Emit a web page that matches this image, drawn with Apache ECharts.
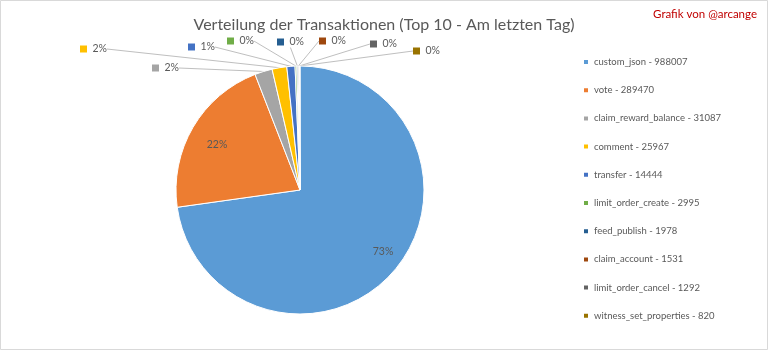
<!DOCTYPE html>
<html>
<head>
<meta charset="utf-8">
<script src="https://cdn.jsdelivr.net/npm/echarts@6/dist/echarts.min.js"></script>
<style>
  html, body { margin: 0; padding: 0; background: #fff; }
  #chart { width: 768px; height: 350px; }
</style>
</head>
<body>
<div id="chart"></div>
<script>
// Transaction types of the last day (top 10) and their counts
const categories = [
  'custom_json', 'vote', 'claim_reward_balance', 'comment', 'transfer',
  'limit_order_create', 'feed_publish', 'claim_account', 'limit_order_cancel',
  'witness_set_properties'
];
const counts = [988007, 289470, 31087, 25967, 14444, 2995, 1978, 1531, 1292, 820];

// Office-style slice colours
const colors = ['#5B9BD5', '#ED7D31', '#A5A5A5', '#FFC000', '#4472C4',
                '#70AD47', '#255E91', '#9E480E', '#636363', '#997300'];

// Where each percentage label sits: [x, y, align]
const labelSpots = [
  [383, 252, 'center'], [217, 145, 'center'],
  [152, 68, 'left'], [80, 49, 'left'], [188, 47, 'left'],
  [227, 41, 'left'], [277, 42, 'left'], [319, 41, 'left'],
  [370, 44, 'left'], [413, 51, 'left']
];

const FONT = 'Lato';
const TEXT = '#595959';

const rich = { t: { fontSize: 10.5, color: TEXT, fontFamily: FONT } };
colors.forEach((c, i) => {
  rich['m' + i] = { width: 7, height: 7, backgroundColor: c };
});

const pieData = categories.map((name, i) => {
  const item = { name: name, value: counts[i], itemStyle: { color: colors[i] } };
  if (i < 2) {
    item.label = { position: 'inside' };
    item.labelLine = { show: false };
  }
  return item;
});

const chart = echarts.init(document.getElementById('chart'), null, { renderer: 'canvas' });

chart.setOption({
  animation: false,
  backgroundColor: '#ffffff',
  title: {
    text: 'Verteilung der Transaktionen (Top 10 - Am letzten Tag)',
    left: 'center',
    top: 12,
    textStyle: { fontFamily: FONT, fontSize: 16, fontWeight: 'normal', color: TEXT }
  },
  legend: {
    orient: 'vertical',
    left: 577,
    top: 50,
    itemWidth: 6,
    itemHeight: 6,
    itemGap: 14.2,
    icon: 'rect',
    data: categories,
    formatter: name => name + ' - ' + counts[categories.indexOf(name)],
    textStyle: { fontFamily: FONT, fontSize: 9.5, color: TEXT, lineHeight: 14 }
  },
  graphic: [
    {
      type: 'rect',
      shape: { x: 0.5, y: 0.5, width: 767, height: 349 },
      style: { fill: 'none', stroke: '#d9d9d9', lineWidth: 1 },
      silent: true
    },
    {
      type: 'text',
      right: 11,
      top: 8,
      style: { text: 'Grafik von @arcange', fill: '#C00000', font: '11.5px ' + FONT }
    }
  ],
  series: [{
    type: 'pie',
    center: [300, 190],
    radius: 124,
    startAngle: 90,
    clockwise: true,
    percentPrecision: 0,
    avoidLabelOverlap: false,
    minShowLabelAngle: 0,
    itemStyle: { borderColor: '#ffffff', borderWidth: 1 },
    label: {
      show: true,
      position: 'outside',
      fontFamily: FONT,
      fontSize: 10.5,
      color: TEXT,
      formatter: p => p.dataIndex < 2
        ? '{t|' + p.percent + '%}'
        : '{m' + p.dataIndex + '|}  {t|' + p.percent + '%}',
      rich: rich
    },
    labelLine: {
      show: true,
      length: 8,
      length2: 0,
      lineStyle: { color: '#bfbfbf', width: 1 }
    },
    labelLayout: p => {
      const s = labelSpots[p.dataIndex];
      return { x: s[0], y: s[1], align: s[2], verticalAlign: 'middle' };
    },
    data: pieData
  }]
});
</script>
</body>
</html>
